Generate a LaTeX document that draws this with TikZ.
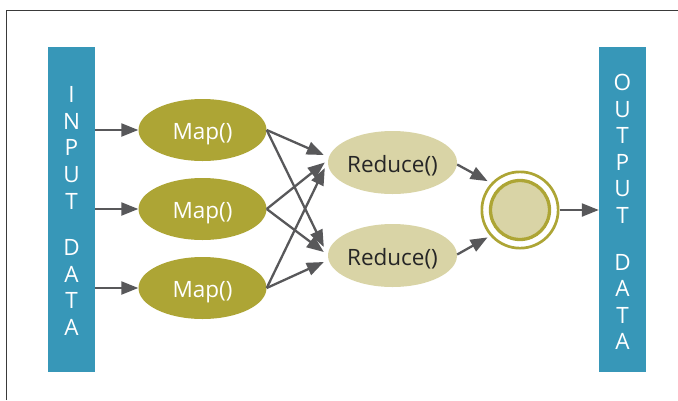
\documentclass[tikz,border=0pt]{standalone}
\usepackage{fontspec}
\setmainfont{Open Sans}
\usetikzlibrary{arrows.meta,shapes.geometric}
\definecolor{barblue}{HTML}{3797B8}
\definecolor{olive}{HTML}{ADA535}
\definecolor{beige}{HTML}{D9D4A6}
\definecolor{arrgray}{HTML}{58585A}
\definecolor{framegray}{HTML}{3A3A3A}
\tikzset{
  databar/.style={fill=barblue, draw=none, minimum width=47pt, minimum height=325pt, inner sep=0pt},
  bartext/.style={text=white, align=center, font=\fontsize{22.5}{26.6}\selectfont, inner sep=0pt},
  mapnode/.style={ellipse, fill=olive, draw=none, minimum width=128pt, minimum height=62pt, inner sep=0pt, text=white, font=\fontsize{22.5}{26}\selectfont, text height=19pt, text depth=0pt},
  rednode/.style={ellipse, fill=beige, draw=none, minimum width=129pt, minimum height=63pt, inner sep=0pt, text=black!85, font=\fontsize{22.5}{26}\selectfont, text height=19pt, text depth=0pt},
  arr/.style={draw=arrgray, line width=2.3pt, -{Triangle[length=17pt,width=13pt]}},
}
\begin{document}
\begin{tikzpicture}[x=1pt,y=-1pt]
\useasboundingbox (0,0) rectangle (678,400);
% frame
\draw[framegray, line width=1.3pt] (6.5,400) -- (6.5,10.5) -- (678,10.5);
% bars
\node[databar] (in) at (71.5,209.5) {};
\node[databar] (out) at (622.5,209.5) {};
\node[bartext] (intext) at (71.5,211) {I\\N\\P\\U\\T\\[20pt]D\\A\\T\\A};
\node[bartext] (outtext) at (622.5,212) {O\\U\\T\\P\\U\\T\\[20pt]D\\A\\T\\A};
% map nodes
\node[mapnode] (m1) at (202.5,130) {Map()};
\node[mapnode] (m2) at (202.5,209) {Map()};
\node[mapnode] (m3) at (202.5,288) {Map()};
% reduce nodes
\node[rednode] (r1) at (392.5,162.5) {Reduce()};
\node[rednode] (r2) at (392.5,255.5) {Reduce()};
% final circle
\node[circle, draw=olive, line width=2.7pt, minimum size=76.3pt, inner sep=0pt] (c) at (520,210) {};
\node[circle, draw=olive, fill=beige, line width=3.3pt, minimum size=59pt, inner sep=0pt] (ci) at (520,210) {};
% arrows
\draw[arr] (in.east |- m1) -- (m1);
\draw[arr] (in.east |- m2) -- (m2);
\draw[arr] (in.east |- m3) -- (m3);
\draw[arr] (m1.east) -- ([xshift=-4pt,yshift=7.5pt]r1.west);
\draw[arr] (m2.east) -- ([xshift=-3pt,yshift=0pt]r1.west);
\draw[arr] (m3.east) -- ([xshift=-3pt,yshift=-5.5pt]r1.west);
\draw[arr] (m1.east) -- ([xshift=-4pt,yshift=8.5pt]r2.west);
\draw[arr] (m2.east) -- ([xshift=-4pt,yshift=3.5pt]r2.west);
\draw[arr] (m3.east) -- ([xshift=-4pt,yshift=-6.5pt]r2.west);
\draw[arr, shorten >=4pt] ([yshift=-2pt]r1.east) -- (c.137);
\draw[arr, shorten >=3pt] ([yshift=1pt]r2.east) -- (c.221);
\draw[arr] (c.east) -- (out.west |- c);
\end{tikzpicture}
\end{document}
